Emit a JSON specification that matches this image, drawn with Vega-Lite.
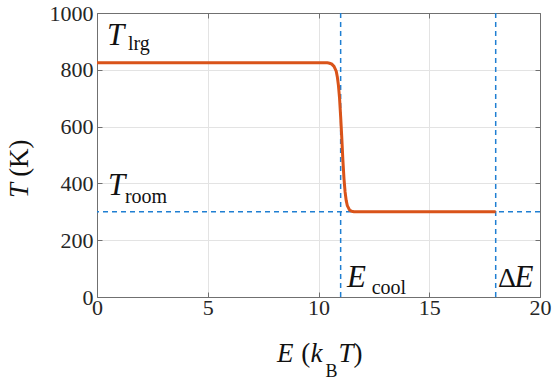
{
  "$schema": "https://vega.github.io/schema/vega-lite/v6.json",
  "autosize": "none",
  "width": 443,
  "height": 284,
  "padding": {"left": 97, "top": 13, "right": 12, "bottom": 83},
  "background": "white",
  "config": {
    "view": {"stroke": null},
    "font": "Liberation Serif",
    "style": {"guide-label": {"font": "Liberation Serif"}},
    "axis": {
      "labelFont": "Liberation Serif",
      "labelFontSize": 22,
      "labelColor": "#262626",
      "domainColor": "#707070",
      "tickColor": "#707070",
      "gridColor": "#e3e3e3",
      "tickSize": -5,
      "domainWidth": 1
    },
    "text": {"font": "Liberation Serif", "color": "#111111"}
  },
  "datasets": {
    "curve": [
      {"E": 0, "T": 825}, {"E": 5, "T": 825}, {"E": 10, "T": 825},
      {"E": 10.4, "T": 824.5}, {"E": 10.5, "T": 823}, {"E": 10.6, "T": 820},
      {"E": 10.7, "T": 812}, {"E": 10.8, "T": 795}, {"E": 10.85, "T": 775},
      {"E": 10.9, "T": 745}, {"E": 10.95, "T": 700}, {"E": 11.0, "T": 635},
      {"E": 11.05, "T": 562}, {"E": 11.1, "T": 483}, {"E": 11.15, "T": 417},
      {"E": 11.2, "T": 370}, {"E": 11.25, "T": 340}, {"E": 11.3, "T": 322},
      {"E": 11.4, "T": 306.5}, {"E": 11.5, "T": 302}, {"E": 11.6, "T": 300.5},
      {"E": 12, "T": 300}, {"E": 15, "T": 300}, {"E": 18, "T": 300}
    ],
    "vlines": [{"E": 11}, {"E": 18}],
    "hline": [{"T": 300}],
    "bigItalic": [
      {"E": 0.45, "T": 887, "t": "T"},
      {"E": 0.5, "T": 359, "t": "T"},
      {"E": 11.29, "T": 35, "t": "E"},
      {"E": 18.85, "T": 35, "t": "E"}
    ],
    "bigUpright": [{"E": 18.1, "T": 35, "t": "Δ"}],
    "subs": [
      {"E": 1.4, "T": 868, "t": "lrg"},
      {"E": 1.26, "T": 331, "t": "room"},
      {"E": 12.4, "T": 10, "t": "cool"}
    ],
    "xTitleItalic": [
      {"E": 8.13, "T": -229, "t": "E"},
      {"E": 9.64, "T": -229, "t": "k"},
      {"E": 10.9, "T": -229, "t": "T"}
    ],
    "xTitleUpright": [
      {"E": 9.22, "T": -229, "t": "("},
      {"E": 11.58, "T": -229, "t": ")"}
    ],
    "xTitleSub": [{"E": 10.32, "T": -282, "t": "B"}],
    "yTitleItalic": [{"E": -3.12, "T": 349, "t": "T"}],
    "yTitleUpright": [{"E": -3.12, "T": 423, "t": "(K)"}]
  },
  "resolve": {"axis": {"x": "independent", "y": "independent"}},
  "layer": [
    {
      "data": {"name": "vlines"},
      "mark": {"type": "rule", "color": "#1f7fd2", "strokeWidth": 1.5, "strokeDash": [5, 4]},
      "encoding": {
        "x": {"field": "E", "type": "quantitative", "scale": {"domain": [0, 20], "nice": false},
          "axis": {"orient": "top", "labels": false, "grid": false, "title": null, "values": [0, 5, 10, 15, 20]}}
      }
    },
    {
      "data": {"name": "hline"},
      "mark": {"type": "rule", "color": "#1f7fd2", "strokeWidth": 1.5, "strokeDash": [5, 4]},
      "encoding": {
        "y": {"field": "T", "type": "quantitative", "scale": {"domain": [0, 1000], "nice": false},
          "axis": {"orient": "right", "labels": false, "grid": false, "title": null, "values": [0, 200, 400, 600, 800, 1000]}}
      }
    },
    {
      "data": {"name": "curve"},
      "mark": {"type": "line", "color": "#D95319", "strokeWidth": 3},
      "encoding": {
        "x": {"field": "E", "type": "quantitative", "scale": {"domain": [0, 20], "nice": false},
          "axis": {"orient": "bottom", "grid": true, "title": null, "values": [0, 5, 10, 15, 20], "format": "d", "labelFont": "Liberation Serif", "labelFontSize": 22, "labelPadding": 5, "labelFlush": false}},
        "y": {"field": "T", "type": "quantitative", "scale": {"domain": [0, 1000], "nice": false},
          "axis": {"orient": "left", "grid": true, "title": null, "values": [0, 200, 400, 600, 800, 1000], "format": "d", "labelFont": "Liberation Serif", "labelFontSize": 22, "labelPadding": 9}}
      }
    },
    {
      "data": {"name": "bigItalic"},
      "mark": {"type": "text", "fontSize": 31, "fontStyle": "italic", "align": "left", "baseline": "alphabetic"},
      "encoding": {
        "x": {"field": "E", "type": "quantitative", "axis": null},
        "y": {"field": "T", "type": "quantitative", "axis": null},
        "text": {"field": "t"}
      }
    },
    {
      "data": {"name": "bigUpright"},
      "mark": {"type": "text", "fontSize": 28, "align": "left", "baseline": "alphabetic"},
      "encoding": {
        "x": {"field": "E", "type": "quantitative", "axis": null},
        "y": {"field": "T", "type": "quantitative", "axis": null},
        "text": {"field": "t"}
      }
    },
    {
      "data": {"name": "subs"},
      "mark": {"type": "text", "fontSize": 20, "align": "left", "baseline": "alphabetic"},
      "encoding": {
        "x": {"field": "E", "type": "quantitative", "axis": null},
        "y": {"field": "T", "type": "quantitative", "axis": null},
        "text": {"field": "t"}
      }
    },
    {
      "data": {"name": "xTitleItalic"},
      "mark": {"type": "text", "fontSize": 27, "fontStyle": "italic", "align": "left", "baseline": "alphabetic"},
      "encoding": {
        "x": {"field": "E", "type": "quantitative", "axis": null},
        "y": {"field": "T", "type": "quantitative", "axis": null},
        "text": {"field": "t"}
      }
    },
    {
      "data": {"name": "xTitleUpright"},
      "mark": {"type": "text", "fontSize": 27, "align": "left", "baseline": "alphabetic"},
      "encoding": {
        "x": {"field": "E", "type": "quantitative", "axis": null},
        "y": {"field": "T", "type": "quantitative", "axis": null},
        "text": {"field": "t"}
      }
    },
    {
      "data": {"name": "xTitleSub"},
      "mark": {"type": "text", "fontSize": 18, "align": "left", "baseline": "alphabetic"},
      "encoding": {
        "x": {"field": "E", "type": "quantitative", "axis": null},
        "y": {"field": "T", "type": "quantitative", "axis": null},
        "text": {"field": "t"}
      }
    },
    {
      "data": {"name": "yTitleItalic"},
      "mark": {"type": "text", "fontSize": 27, "fontStyle": "italic", "angle": 270, "align": "left", "baseline": "alphabetic"},
      "encoding": {
        "x": {"field": "E", "type": "quantitative", "axis": null},
        "y": {"field": "T", "type": "quantitative", "axis": null},
        "text": {"field": "t"}
      }
    },
    {
      "data": {"name": "yTitleUpright"},
      "mark": {"type": "text", "fontSize": 27, "angle": 270, "align": "left", "baseline": "alphabetic"},
      "encoding": {
        "x": {"field": "E", "type": "quantitative", "axis": null},
        "y": {"field": "T", "type": "quantitative", "axis": null},
        "text": {"field": "t"}
      }
    }
  ]
}
